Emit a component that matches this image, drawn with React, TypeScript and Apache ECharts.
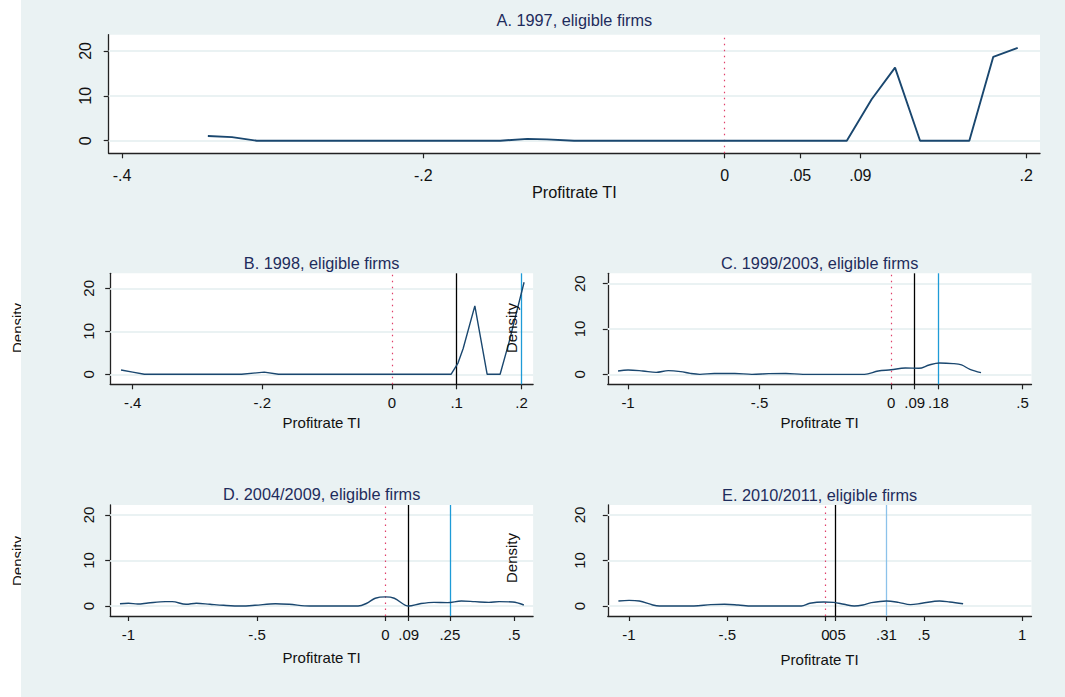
import React, { useEffect, useRef } from "react";
import * as echarts from "echarts";

// ---------- data ----------
const panelTitles = [
  "A. 1997, eligible firms",
  "B. 1998, eligible firms",
  "C. 1999/2003, eligible firms",
  "D. 2004/2009, eligible firms",
  "E. 2010/2011, eligible firms",
];

const xA = [-0.343, -0.327, -0.3106, -0.149, -0.131, -0.118, -0.1, 0.081, 0.0975, 0.113, 0.1296, 0.1623, 0.1782, 0.1944];
const yA = [1.05, 0.8, 0, 0, 0.4, 0.3, 0, 0, 9.25, 16.3, 0, 0, 18.7, 20.7];

const xB = [-0.418, -0.4, -0.382, -0.232, -0.197, -0.175, 0.0912, 0.102, 0.11, 0.128, 0.147, 0.167, 0.181, 0.204];
const yB = [1.0, 0.5, 0, 0, 0.5, 0, 0, 2.6, 6, 15.9, 0, 0, 7.6, 21.4];

const xC = [-1.038, -1.0, -0.944, -0.893, -0.847, -0.8, -0.763, -0.727, -0.672, -0.594, -0.529, -0.465, -0.4, -0.335, -0.101, -0.049, 0.0, 0.054, 0.106, 0.145, 0.184, 0.236, 0.268, 0.3, 0.342];
const yC = [0.74, 0.96, 0.74, 0.44, 0.81, 0.6, 0.2, 0.0, 0.2, 0.2, 0.0, 0.15, 0.2, 0.0, 0.0, 0.74, 1.0, 1.4, 1.33, 2.07, 2.5, 2.37, 2.07, 1.1, 0.37];

const xD = [-1.033, -1.0, -0.964, -0.924, -0.857, -0.83, -0.776, -0.736, -0.683, -0.63, -0.562, -0.508, -0.428, -0.375, -0.294, -0.107, -0.073, -0.04, 0.0, 0.034, 0.09, 0.134, 0.188, 0.241, 0.295, 0.348, 0.402, 0.442, 0.495, 0.538];
const yD = [0.5, 0.6, 0.44, 0.66, 0.95, 0.95, 0.37, 0.6, 0.37, 0.15, 0.0, 0.15, 0.5, 0.37, 0.0, 0.0, 0.6, 1.7, 2.0, 1.7, 0.0, 0.5, 0.8, 0.73, 1.1, 0.95, 0.8, 0.95, 0.88, 0.22];

const xE = [-1.054, -1.0, -0.948, -0.879, -0.845, -0.67, -0.584, -0.514, -0.445, -0.375, -0.123, -0.08, -0.01, 0.042, 0.094, 0.146, 0.19, 0.233, 0.31, 0.371, 0.432, 0.49, 0.58, 0.632, 0.7];
const yE = [1.1, 1.24, 1.1, 0.22, 0.0, 0.0, 0.3, 0.37, 0.22, 0.0, 0.0, 0.6, 0.88, 0.8, 0.37, 0.0, 0.22, 0.73, 1.1, 0.8, 0.3, 0.6, 1.1, 0.88, 0.5];

const xTicksA = [-0.4, -0.2, 0, 0.05, 0.09, 0.2];
const xTicksB = [-0.4, -0.2, 0, 0.1, 0.2];
const xTicksC = [-1, -0.5, 0, 0.09, 0.18, 0.5];
const xTicksD = [-1, -0.5, 0, 0.09, 0.25, 0.5];
const xTicksE = [-1, -0.5, 0, 0.05, 0.31, 0.5, 1];
const yTicks = [0, 10, 20];

const zeroLine = [0, 0, 0, 0, 0];
const blackLine: (number | null)[] = [null, 0.1, 0.09, 0.09, 0.05];
const blueLine: (number | null)[] = [null, 0.2, 0.18, 0.25, 0.31];

const xTitle = "Profitrate TI";
const yTitle = "Density";

// ---------- layout / style ----------
const FONT = "'Liberation Sans', Arial, Helvetica, sans-serif";
const NAVY = "#1a476f";
const TITLE_COLOR = "#1e2c5c";
const BG = "#eaf2f3";

const panels = [
  { x: xA, y: yA, ticks: xTicksA, left: 108.7, top: 34.7, width: 931.3, height: 118.6, xmin: -0.4088, xmax: 0.2092, ymin: -2.81, ymax: 23.63, lw: 1.9, smooth: false, lblMargin: 14, yMargin: 15, titleY: 20, xTitleY: 191.5, blue: "#1e9bd7", fs: 16, tfs: 16.3 },
  { x: xB, y: yB, ticks: xTicksB, left: 110.2, top: 273.3, width: 422.9, height: 111, xmin: -0.4347, xmax: 0.2179, ymin: -2.33, ymax: 23.49, lw: 1.4, smooth: false, lblMargin: 11, yMargin: 14, titleY: 262.5, xTitleY: 422.5, blue: "#1e9bd7", fs: 15, tfs: 15 },
  { x: xC, y: yC, ticks: xTicksC, left: 607.8, top: 273.3, width: 423.7, height: 111, xmin: -1.077, xmax: 0.534, ymin: -2.2, ymax: 22.3, lw: 1.4, smooth: 0.35, lblMargin: 11, yMargin: 21, titleY: 262.5, xTitleY: 422.5, blue: "#1e9bd7", fs: 15, tfs: 15 },
  { x: xD, y: yD, ticks: xTicksD, left: 110.2, top: 505, width: 422.9, height: 111, xmin: -1.071, xmax: 0.574, ymin: -2.2, ymax: 22.2, lw: 1.4, smooth: 0.35, lblMargin: 11, yMargin: 14, titleY: 494, xTitleY: 657.5, blue: "#1e9bd7", fs: 15, tfs: 15 },
  { x: xE, y: yE, ticks: xTicksE, left: 607.8, top: 505, width: 423.7, height: 111, xmin: -1.108, xmax: 1.048, ymin: -2.2, ymax: 22.2, lw: 1.4, smooth: 0.35, lblMargin: 11, yMargin: 21, titleY: 495, xTitleY: 659.5, blue: "#8cc2ea", fs: 15, tfs: 15 },
];

const fmt = (v: number) => {
  if (v === 0) return "0";
  return String(v).replace(/^(-?)0\./, "$1.");
};

export default function App() {
  const ref = useRef<HTMLDivElement>(null);

  useEffect(() => {
    document.body.style.margin = "0";
    const chart = echarts.init(ref.current!, null, { renderer: "svg" });

    const grids: any[] = [];
    const xAxes: any[] = [];
    const yAxes: any[] = [];
    const series: any[] = [];
    const graphics: any[] = [];

    graphics.push({
      type: "rect",
      z: -10,
      silent: true,
      shape: { x: 21, y: 0, width: 1044, height: 697 },
      style: { fill: BG },
    });
    // y titles of the left column, partly hidden behind the background
    [328, 561].forEach((cy) => {
      graphics.push({
        type: "text",
        z: -20,
        x: 17,
        y: cy,
        rotation: Math.PI / 2,
        style: { text: yTitle, font: `15px ${FONT}`, fill: "#111", align: "center", verticalAlign: "middle" },
      });
    });
    // y titles of right column drawn over the left panels
    [328, 558].forEach((cy) => {
      graphics.push({
        type: "text",
        z: 50,
        x: 511.5,
        y: cy,
        rotation: Math.PI / 2,
        style: { text: yTitle, font: `15px ${FONT}`, fill: "#111", align: "center", verticalAlign: "middle" },
      });
    });

    panels.forEach((p, i) => {
      grids.push({
        left: p.left,
        top: p.top,
        width: p.width,
        height: p.height,
        show: true,
        backgroundColor: "#ffffff",
        borderWidth: 0,
        containLabel: false,
      });
      xAxes.push({
        gridIndex: i,
        type: "value",
        min: p.xmin,
        max: p.xmax,
        axisLine: { show: true, onZero: false, lineStyle: { color: "#222", width: 1.3 } },
        axisTick: { show: true, length: 5, customValues: p.ticks, lineStyle: { color: "#222", width: 1.2 } },
        axisLabel: { customValues: p.ticks, formatter: fmt, fontSize: p.fs, color: "#111", fontFamily: FONT, margin: p.lblMargin, hideOverlap: false },
        splitLine: { show: false },
      });
      yAxes.push({
        gridIndex: i,
        type: "value",
        min: p.ymin,
        max: p.ymax,
        axisLine: { show: true, onZero: false, lineStyle: { color: "#222", width: 1.3 } },
        axisTick: { show: true, length: 5, customValues: yTicks, lineStyle: { color: "#222", width: 1.2 } },
        axisLabel: { customValues: yTicks, formatter: (v: number) => String(v), rotate: 90, fontSize: p.fs, color: "#111", fontFamily: FONT, margin: p.yMargin },
        splitLine: { show: false },
      });
      // horizontal grid lines
      series.push({
        type: "line",
        xAxisIndex: i,
        yAxisIndex: i,
        data: [],
        silent: true,
        z: 1,
        markLine: {
          z: 1,
          silent: true,
          symbol: "none",
          label: { show: false },
          lineStyle: { color: BG, width: 1.8, type: "solid" },
          data: yTicks.map((t) => ({ yAxis: t })),
        },
      });
      // vertical reference lines
      const vl: any[] = [
        { xAxis: zeroLine[i], lineStyle: { color: "#e0406a", width: 1.2, type: [1.5, 4.5] } },
      ];
      if (blackLine[i] !== null) vl.push({ xAxis: blackLine[i], lineStyle: { color: "#000", width: 1.3, type: "solid" } });
      if (blueLine[i] !== null) vl.push({ xAxis: blueLine[i], lineStyle: { color: p.blue, width: 1.3, type: "solid" } });
      series.push({
        type: "line",
        xAxisIndex: i,
        yAxisIndex: i,
        data: [],
        silent: true,
        z: 2,
        markLine: { z: 2, silent: true, symbol: "none", label: { show: false }, data: vl },
      });
      // density curve
      series.push({
        type: "line",
        xAxisIndex: i,
        yAxisIndex: i,
        data: p.x.map((xv, j) => [xv, p.y[j]]),
        showSymbol: false,
        symbol: "none",
        smooth: p.smooth,
        z: 3,
        lineStyle: { color: NAVY, width: p.lw },
      });
      // titles
      graphics.push({
        type: "text",
        z: 20,
        x: p.left + p.width / 2,
        y: p.titleY,
        style: { text: panelTitles[i], font: `16.3px ${FONT}`, fill: TITLE_COLOR, align: "center", verticalAlign: "middle" },
      });
      graphics.push({
        type: "text",
        z: 20,
        x: p.left + p.width / 2,
        y: p.xTitleY,
        style: { text: xTitle, font: `${p.tfs}px ${FONT}`, fill: "#111", align: "center", verticalAlign: "middle" },
      });
    });

    chart.setOption({
      animation: false,
      backgroundColor: "#ffffff",
      textStyle: { fontFamily: FONT },
      grid: grids,
      xAxis: xAxes,
      yAxis: yAxes,
      series,
      graphic: { elements: graphics },
    });

    return () => chart.dispose();
  }, []);

  return <div ref={ref} style={{ width: 1065, height: 697 }} />;
}
